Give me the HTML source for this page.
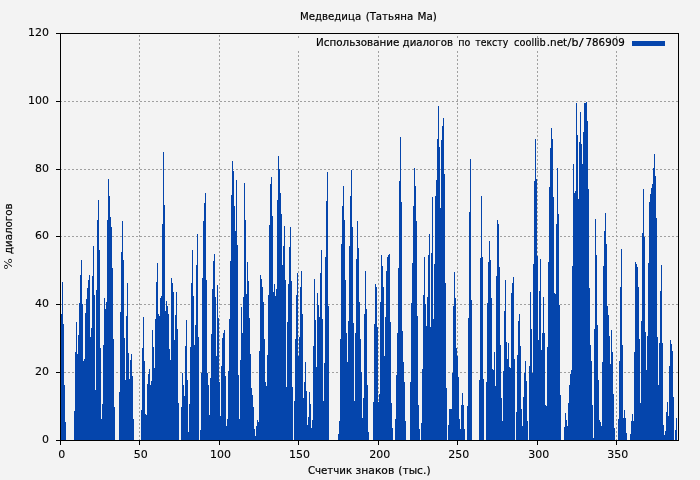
<!DOCTYPE html>
<html lang="ru">
<head>
<meta charset="utf-8">
<title>Медведица (Татьяна Ма)</title>
<style>
html,body{margin:0;padding:0;background:#f3f3f3;}
body{width:700px;height:480px;overflow:hidden;}
svg{display:block;}
text{font-family:"DejaVu Sans", "Liberation Sans", sans-serif;font-size:11px;fill:#000;stroke:#000;stroke-width:0.1px;}
text.w{stroke-width:0.2px;}
.g{stroke:#a0a0a0;stroke-width:1;stroke-dasharray:2 2;fill:none;shape-rendering:crispEdges;}
.k{stroke:#000;stroke-width:1;fill:none;shape-rendering:crispEdges;}
.b{fill:#0545ac;shape-rendering:crispEdges;}
</style>
</head>
<body>
<svg width="700" height="480" viewBox="0 0 700 480">
<rect width="700" height="480" fill="#f3f3f3"/>
<path class="g" d="M60 372.5H678M60 304.5H678M60 236.5H678M60 169.5H678M60 101.5H678M139.5 441V34M219.5 441V34M298.5 441V51M298.5 38V34M378.5 441V51M378.5 38V34M457.5 441V51M457.5 38V34M537.5 441V51M537.5 38V34M616.5 441V51M616.5 38V34"/>
<path class="b" d="M61 314h1v126h-1zM62 282h1v158h-1zM63 324h1v116h-1zM64 385h1v55h-1zM65 422h1v18h-1zM74 411h1v29h-1zM75 352h1v88h-1zM76 322h1v118h-1zM77 354h1v86h-1zM78 335h1v105h-1zM79 303h1v137h-1zM80 275h1v165h-1zM81 260h1v180h-1zM82 304h1v136h-1zM83 361h1v79h-1zM84 359h1v81h-1zM85 313h1v127h-1zM86 299h1v141h-1zM87 288h1v152h-1zM88 280h1v160h-1zM89 275h1v165h-1zM90 337h1v103h-1zM91 328h1v112h-1zM92 276h1v164h-1zM93 246h1v194h-1zM94 295h1v145h-1zM95 390h1v50h-1zM96 290h1v150h-1zM97 220h1v220h-1zM98 200h1v240h-1zM99 250h1v190h-1zM100 348h1v92h-1zM101 419h1v21h-1zM102 404h1v36h-1zM103 345h1v95h-1zM104 298h1v142h-1zM105 309h1v131h-1zM106 302h1v138h-1zM107 220h1v220h-1zM108 179h1v261h-1zM109 196h1v244h-1zM110 217h1v223h-1zM111 227h1v213h-1zM112 268h1v172h-1zM113 339h1v101h-1zM114 407h1v33h-1zM119 392h1v48h-1zM120 312h1v128h-1zM121 252h1v188h-1zM122 221h1v219h-1zM123 260h1v180h-1zM124 338h1v102h-1zM125 380h1v60h-1zM126 316h1v124h-1zM127 283h1v157h-1zM128 353h1v87h-1zM129 379h1v61h-1zM130 360h1v80h-1zM131 354h1v86h-1zM132 376h1v64h-1zM133 419h1v21h-1zM141 410h1v30h-1zM142 348h1v92h-1zM143 317h1v123h-1zM144 361h1v79h-1zM145 414h1v26h-1zM146 415h1v25h-1zM147 384h1v56h-1zM148 374h1v66h-1zM149 369h1v71h-1zM150 385h1v55h-1zM151 381h1v59h-1zM152 330h1v110h-1zM153 347h1v93h-1zM154 368h1v72h-1zM155 319h1v121h-1zM156 282h1v158h-1zM157 263h1v177h-1zM158 314h1v126h-1zM159 316h1v124h-1zM160 298h1v142h-1zM161 296h1v144h-1zM162 224h1v216h-1zM163 152h1v288h-1zM164 205h1v235h-1zM165 311h1v129h-1zM166 301h1v139h-1zM167 306h1v134h-1zM168 314h1v126h-1zM169 349h1v91h-1zM170 360h1v80h-1zM171 278h1v162h-1zM172 283h1v157h-1zM173 292h1v148h-1zM174 340h1v100h-1zM175 315h1v125h-1zM176 292h1v148h-1zM177 329h1v111h-1zM178 403h1v37h-1zM181 407h1v33h-1zM182 373h1v67h-1zM183 385h1v55h-1zM184 396h1v44h-1zM185 346h1v94h-1zM186 320h1v120h-1zM187 380h1v60h-1zM188 432h1v8h-1zM189 404h1v36h-1zM190 347h1v93h-1zM191 283h1v157h-1zM192 250h1v190h-1zM193 296h1v144h-1zM194 345h1v95h-1zM195 325h1v115h-1zM196 265h1v175h-1zM197 234h1v206h-1zM198 337h1v103h-1zM200 430h1v10h-1zM201 373h1v67h-1zM202 278h1v162h-1zM203 221h1v219h-1zM204 203h1v237h-1zM205 193h1v247h-1zM206 280h1v160h-1zM207 373h1v67h-1zM208 385h1v55h-1zM209 415h1v25h-1zM210 378h1v62h-1zM211 334h1v106h-1zM212 289h1v151h-1zM213 261h1v179h-1zM214 254h1v186h-1zM215 297h1v143h-1zM216 356h1v84h-1zM217 285h1v155h-1zM218 318h1v122h-1zM219 382h1v58h-1zM220 416h1v24h-1zM221 366h1v74h-1zM222 338h1v102h-1zM223 333h1v107h-1zM224 330h1v110h-1zM225 376h1v64h-1zM226 426h1v14h-1zM227 419h1v21h-1zM228 371h1v69h-1zM229 319h1v121h-1zM230 261h1v179h-1zM231 195h1v245h-1zM232 161h1v279h-1zM233 171h1v269h-1zM234 206h1v234h-1zM235 231h1v209h-1zM236 180h1v260h-1zM237 245h1v195h-1zM238 375h1v65h-1zM239 419h1v21h-1zM240 360h1v80h-1zM241 307h1v133h-1zM242 333h1v107h-1zM243 297h1v143h-1zM244 183h1v257h-1zM245 220h1v220h-1zM246 294h1v146h-1zM247 262h1v178h-1zM248 281h1v159h-1zM249 318h1v122h-1zM250 354h1v86h-1zM251 388h1v52h-1zM252 395h1v45h-1zM253 407h1v33h-1zM254 429h1v11h-1zM255 436h1v4h-1zM256 426h1v14h-1zM257 420h1v20h-1zM258 422h1v18h-1zM259 351h1v89h-1zM260 275h1v165h-1zM261 279h1v161h-1zM262 287h1v153h-1zM263 302h1v138h-1zM264 339h1v101h-1zM265 382h1v58h-1zM266 386h1v54h-1zM267 355h1v85h-1zM268 295h1v145h-1zM269 225h1v215h-1zM270 184h1v256h-1zM271 177h1v263h-1zM272 216h1v224h-1zM273 292h1v148h-1zM274 284h1v156h-1zM275 296h1v144h-1zM276 289h1v151h-1zM277 200h1v240h-1zM278 156h1v284h-1zM279 169h1v271h-1zM280 193h1v247h-1zM281 214h1v226h-1zM282 265h1v175h-1zM283 246h1v194h-1zM284 226h1v214h-1zM285 280h1v160h-1zM286 387h1v53h-1zM287 322h1v118h-1zM288 284h1v156h-1zM289 247h1v193h-1zM290 227h1v213h-1zM291 281h1v159h-1zM292 387h1v53h-1zM294 401h1v39h-1zM295 339h1v101h-1zM296 295h1v145h-1zM297 273h1v167h-1zM298 356h1v84h-1zM299 337h1v103h-1zM300 287h1v153h-1zM301 271h1v169h-1zM302 314h1v126h-1zM303 398h1v42h-1zM304 382h1v58h-1zM305 362h1v78h-1zM306 391h1v49h-1zM307 425h1v15h-1zM308 417h1v23h-1zM309 392h1v48h-1zM310 404h1v36h-1zM311 428h1v12h-1zM312 420h1v20h-1zM313 346h1v94h-1zM314 279h1v161h-1zM315 320h1v120h-1zM316 367h1v73h-1zM317 293h1v147h-1zM318 305h1v135h-1zM319 317h1v123h-1zM320 273h1v167h-1zM321 250h1v190h-1zM322 319h1v121h-1zM323 401h1v39h-1zM324 363h1v77h-1zM325 257h1v183h-1zM326 201h1v239h-1zM327 172h1v268h-1zM328 306h1v134h-1zM338 434h1v6h-1zM339 421h1v19h-1zM340 339h1v101h-1zM341 244h1v196h-1zM342 206h1v234h-1zM343 186h1v254h-1zM344 220h1v220h-1zM345 280h1v160h-1zM346 333h1v107h-1zM347 362h1v78h-1zM348 321h1v119h-1zM349 246h1v194h-1zM350 196h1v244h-1zM351 170h1v270h-1zM352 227h1v213h-1zM353 323h1v117h-1zM354 401h1v39h-1zM355 333h1v107h-1zM356 259h1v181h-1zM357 221h1v219h-1zM358 248h1v192h-1zM359 302h1v138h-1zM360 339h1v101h-1zM361 372h1v68h-1zM362 418h1v22h-1zM363 398h1v42h-1zM364 314h1v126h-1zM365 271h1v169h-1zM366 309h1v131h-1zM367 385h1v55h-1zM368 432h1v8h-1zM373 402h1v38h-1zM374 324h1v116h-1zM375 284h1v156h-1zM376 287h1v153h-1zM377 327h1v113h-1zM378 402h1v38h-1zM379 394h1v46h-1zM380 302h1v138h-1zM381 255h1v185h-1zM382 266h1v174h-1zM383 287h1v153h-1zM384 356h1v84h-1zM385 317h1v123h-1zM386 271h1v169h-1zM387 257h1v183h-1zM388 255h1v185h-1zM389 254h1v186h-1zM390 322h1v118h-1zM391 403h1v37h-1zM392 428h1v12h-1zM395 419h1v21h-1zM396 375h1v65h-1zM397 333h1v107h-1zM398 268h1v172h-1zM399 181h1v259h-1zM400 137h1v303h-1zM401 202h1v238h-1zM402 331h1v109h-1zM403 362h1v78h-1zM404 382h1v58h-1zM405 421h1v19h-1zM410 382h1v58h-1zM411 303h1v137h-1zM412 263h1v177h-1zM413 206h1v234h-1zM414 168h1v272h-1zM415 186h1v254h-1zM416 221h1v219h-1zM417 316h1v124h-1zM418 405h1v35h-1zM419 429h1v11h-1zM421 423h1v17h-1zM422 369h1v71h-1zM423 295h1v145h-1zM424 257h1v183h-1zM425 304h1v136h-1zM426 326h1v114h-1zM427 297h1v143h-1zM428 255h1v185h-1zM429 234h1v206h-1zM430 327h1v113h-1zM431 253h1v187h-1zM432 197h1v243h-1zM433 319h1v121h-1zM434 264h1v176h-1zM435 196h1v244h-1zM436 180h1v260h-1zM437 139h1v301h-1zM438 106h1v334h-1zM439 147h1v293h-1zM440 208h1v232h-1zM441 140h1v300h-1zM442 126h1v314h-1zM443 118h1v322h-1zM444 174h1v266h-1zM445 283h1v157h-1zM446 388h1v52h-1zM448 425h1v15h-1zM449 409h3v31h-3zM452 373h1v67h-1zM453 306h1v134h-1zM454 272h1v168h-1zM455 298h1v142h-1zM456 348h1v92h-1zM457 356h1v84h-1zM458 377h1v63h-1zM459 419h1v21h-1zM460 429h1v11h-1zM461 405h1v35h-1zM462 393h1v47h-1zM463 405h1v35h-1zM464 429h1v11h-1zM467 406h1v34h-1zM468 318h1v122h-1zM469 212h1v228h-1zM470 159h1v281h-1zM471 300h1v140h-1zM479 380h1v60h-1zM480 258h1v182h-1zM481 196h1v244h-1zM482 257h1v183h-1zM483 379h1v61h-1zM486 382h1v58h-1zM487 303h1v137h-1zM488 262h1v178h-1zM489 241h1v199h-1zM490 260h1v180h-1zM491 298h1v142h-1zM492 369h1v71h-1zM493 370h1v70h-1zM494 352h1v88h-1zM495 386h1v54h-1zM496 276h1v164h-1zM497 220h1v220h-1zM498 224h1v216h-1zM499 267h1v173h-1zM500 345h1v95h-1zM501 398h1v42h-1zM502 421h1v19h-1zM503 371h1v69h-1zM504 311h1v129h-1zM505 280h1v160h-1zM506 342h1v98h-1zM507 359h1v81h-1zM508 343h1v97h-1zM509 367h1v73h-1zM510 368h1v72h-1zM511 293h1v147h-1zM512 283h1v157h-1zM513 277h1v163h-1zM514 359h1v81h-1zM516 412h1v28h-1zM517 355h1v85h-1zM518 321h1v119h-1zM519 314h1v126h-1zM520 346h1v94h-1zM521 409h1v31h-1zM522 426h1v14h-1zM523 397h1v43h-1zM524 373h1v67h-1zM525 361h1v79h-1zM526 381h1v59h-1zM527 421h1v19h-1zM529 366h1v74h-1zM530 292h1v148h-1zM531 329h1v111h-1zM532 373h1v67h-1zM533 264h1v176h-1zM534 181h1v259h-1zM535 139h1v301h-1zM536 179h1v261h-1zM537 256h1v184h-1zM538 340h1v100h-1zM539 291h1v149h-1zM540 259h1v181h-1zM541 350h1v90h-1zM542 333h1v107h-1zM543 297h1v143h-1zM544 333h1v107h-1zM545 405h1v35h-1zM546 406h1v34h-1zM547 347h1v93h-1zM548 262h1v178h-1zM549 187h1v253h-1zM550 148h1v292h-1zM551 128h1v312h-1zM552 139h1v301h-1zM553 197h1v243h-1zM554 293h1v147h-1zM555 294h1v146h-1zM556 224h1v216h-1zM557 168h1v272h-1zM558 214h1v226h-1zM559 305h1v135h-1zM560 395h1v45h-1zM564 427h1v13h-1zM565 413h1v27h-1zM566 420h1v20h-1zM567 426h1v14h-1zM568 403h1v37h-1zM569 385h1v55h-1zM570 374h1v66h-1zM571 370h1v70h-1zM572 266h1v174h-1zM573 164h1v276h-1zM574 193h1v247h-1zM575 191h1v249h-1zM576 103h1v337h-1zM577 135h1v305h-1zM578 199h1v241h-1zM579 142h1v298h-1zM580 112h1v328h-1zM581 144h1v296h-1zM582 164h1v276h-1zM583 132h1v308h-1zM584 103h2v337h-2zM586 102h1v338h-1zM587 121h1v319h-1zM588 189h1v251h-1zM589 288h1v152h-1zM590 345h1v95h-1zM591 361h1v79h-1zM592 405h1v35h-1zM593 438h1v2h-1zM594 329h1v111h-1zM595 219h1v221h-1zM596 255h1v185h-1zM597 325h1v115h-1zM598 380h1v60h-1zM599 420h1v20h-1zM600 422h1v18h-1zM601 426h1v14h-1zM602 362h1v78h-1zM603 266h1v174h-1zM604 231h1v209h-1zM605 213h1v227h-1zM606 244h1v196h-1zM607 306h1v134h-1zM608 315h1v125h-1zM609 336h1v104h-1zM610 364h1v76h-1zM611 330h1v110h-1zM612 352h1v88h-1zM613 394h1v46h-1zM614 428h1v12h-1zM618 419h1v21h-1zM619 361h1v79h-1zM620 287h1v153h-1zM621 249h1v191h-1zM622 345h1v95h-1zM623 418h1v22h-1zM624 410h1v30h-1zM625 418h1v22h-1zM626 433h1v7h-1zM630 434h1v6h-1zM631 421h1v19h-1zM632 414h1v26h-1zM633 421h1v19h-1zM634 352h1v88h-1zM635 262h1v178h-1zM636 264h1v176h-1zM637 267h1v173h-1zM638 287h1v153h-1zM639 339h1v101h-1zM640 403h1v37h-1zM641 321h1v119h-1zM642 233h1v207h-1zM643 189h1v251h-1zM644 237h1v203h-1zM645 332h1v108h-1zM646 370h1v70h-1zM647 336h1v104h-1zM648 263h1v177h-1zM649 202h1v238h-1zM650 194h1v246h-1zM651 188h1v252h-1zM652 184h1v256h-1zM653 168h1v272h-1zM654 154h1v286h-1zM655 176h1v264h-1zM656 218h1v222h-1zM657 337h1v103h-1zM658 385h1v55h-1zM659 343h1v97h-1zM660 291h1v149h-1zM661 265h1v175h-1zM662 343h1v97h-1zM663 425h1v15h-1zM664 435h1v5h-1zM665 431h1v9h-1zM666 412h1v28h-1zM667 402h1v38h-1zM668 416h1v24h-1zM669 366h1v74h-1zM670 340h1v100h-1zM671 344h1v96h-1zM672 351h1v89h-1zM673 397h1v43h-1zM675 430h1v10h-1zM676 418h1v22h-1z"/>
<rect class="b" x="632" y="41" width="33" height="5"/>
<path class="k" d="M60.5 33.5H678.5V440.5H60.5zM56 440.5H60M56 372.5H60M56 304.5H60M56 236.5H60M56 169.5H60M56 101.5H60M56 33.5H60M60.5 441V445M139.5 441V445M219.5 441V445M298.5 441V445M378.5 441V445M457.5 441V445M537.5 441V445M616.5 441V445"/>
<text class="w" y="20"><tspan x="300.03" textLength="61.14" lengthAdjust="spacingAndGlyphs">Медведица</tspan> <tspan x="365.67" textLength="47.50" lengthAdjust="spacingAndGlyphs">(Татьяна</tspan> <tspan x="417.51" textLength="19.41" lengthAdjust="spacingAndGlyphs">Ма)</tspan></text>
<text class="w" y="46"><tspan x="316.02" textLength="83.37" lengthAdjust="spacingAndGlyphs">Использование</tspan> <tspan x="402.59" textLength="50.36" lengthAdjust="spacingAndGlyphs">диалогов</tspan> <tspan x="458.28" textLength="12.11" lengthAdjust="spacingAndGlyphs">по</tspan> <tspan x="475.30" textLength="32.94" lengthAdjust="spacingAndGlyphs">тексту</tspan> <tspan x="514.12" textLength="31.67" lengthAdjust="spacingAndGlyphs">coollib</tspan><tspan x="546.71" textLength="20.48" lengthAdjust="spacingAndGlyphs">.net</tspan><tspan x="567.35" textLength="4.31" lengthAdjust="spacingAndGlyphs" stroke="none">/</tspan><tspan x="571.45" textLength="6.98" lengthAdjust="spacingAndGlyphs">b</tspan><tspan x="578.75" textLength="5.11" lengthAdjust="spacingAndGlyphs" stroke="none">/</tspan><tspan x="585.51" textLength="39.28" lengthAdjust="spacingAndGlyphs">786909</tspan></text>
<text class="w" y="474"><tspan x="307.89" textLength="44.23" lengthAdjust="spacingAndGlyphs">Счетчик</tspan> <tspan x="355.57" textLength="38.71" lengthAdjust="spacingAndGlyphs">знаков</tspan> <tspan x="398.22" textLength="32.37" lengthAdjust="spacingAndGlyphs">(тыс.)</tspan></text>
<text class="w" transform="translate(11.7,480) rotate(-90)" y="0"><tspan x="210.60" textLength="11.30" lengthAdjust="spacingAndGlyphs" stroke="none">%</tspan> <tspan x="225.99" textLength="50.46" lengthAdjust="spacingAndGlyphs">диалогов</tspan></text>
<text x="41.95" y="443">0</text>
<text x="34.95" y="375">20</text>
<text x="34.95" y="307">40</text>
<text x="34.95" y="239">60</text>
<text x="34.95" y="172">80</text>
<text x="27.95" y="104">100</text>
<text x="27.95" y="36">120</text>
<text x="58.20" y="458">0</text>
<text x="133.65" y="458">50</text>
<text x="209.97" y="458">100</text>
<text x="288.97" y="458">150</text>
<text x="369.18" y="458">200</text>
<text x="448.18" y="458">250</text>
<text x="528.15" y="458">300</text>
<text x="607.15" y="458">350</text>
</svg>
</body>
</html>
